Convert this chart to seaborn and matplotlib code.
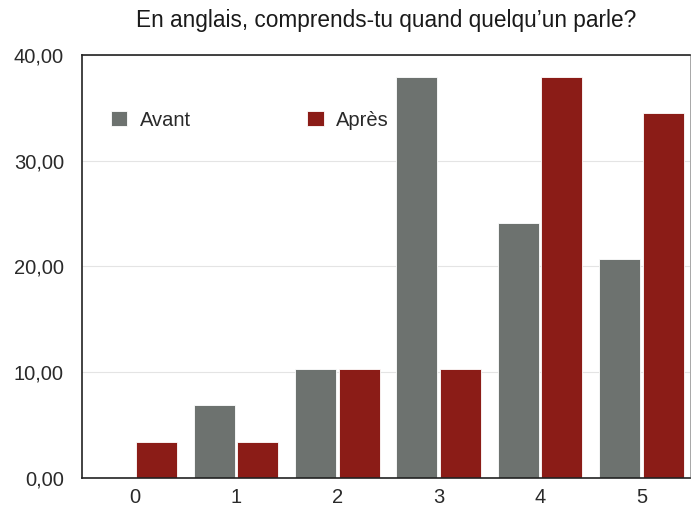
import numpy as np
import pandas as pd
import matplotlib
matplotlib.use("Agg")
import matplotlib.pyplot as plt
import seaborn as sns
from matplotlib.ticker import FuncFormatter

# Données (pourcentages)
niveaux = ["0", "1", "2", "3", "4", "5"]
avant = [0.0, 6.90, 10.34, 37.93, 24.14, 20.69]
apres = [3.45, 3.45, 10.34, 10.34, 37.93, 34.48]
periodes = ["Avant", "Après"]
couleurs = ["#6d726f", "#8b1c17"]

df = pd.DataFrame({
    "niveau": niveaux * 2,
    "pourcentage": avant + apres,
    "periode": [periodes[0]] * len(niveaux) + [periodes[1]] * len(niveaux),
})

sns.set_theme(style="white")
plt.rcParams['font.family'] = ['Liberation Sans', 'DejaVu Sans']

fig = plt.figure(figsize=(6.91, 5.08), dpi=100)
ax = fig.add_axes([0.1187, 0.059, 0.88, 0.833])

sns.barplot(data=df, x="niveau", y="pourcentage", hue="periode",
            palette=couleurs, saturation=1, width=0.86, gap=0.06, ax=ax,
            edgecolor="white", linewidth=0.6)

ax.set_axisbelow(True)
ax.set_ylim(0, 40)
ax.set_xlim(-0.52, 5.48)
ax.set_yticks([0, 10, 20, 30, 40])
ax.yaxis.set_major_formatter(FuncFormatter(lambda v, p: f"{v:.2f}".replace(".", ",")))
ax.grid(axis="y", color="#e4e4e4", linewidth=0.8)
ax.set_xlabel("")
ax.set_ylabel("")
ax.tick_params(axis="both", labelsize=14.5, colors="#2a2a2a", length=0)
ax.tick_params(axis="x", pad=7)
ax.tick_params(axis="y", pad=13)

for cote in ["left", "bottom", "top"]:
    ax.spines[cote].set_color("#222222")
    ax.spines[cote].set_linewidth(1.2)
    ax.spines[cote].set_zorder(5)
ax.spines["right"].set_color("#999999")
ax.spines["right"].set_linewidth(0.6)

ax.set_title("En anglais, comprends-tu quand quelqu\u2019un parle?",
             fontsize=16.3, color="#1a1a1a", pad=20)

leg = ax.legend(loc="center left", bbox_to_anchor=(0.0184, 0.846), ncol=2,
                frameon=False, fontsize=14.5, columnspacing=5.8,
                handlelength=0.8, handleheight=0.75, handletextpad=0.6)
for t in leg.get_texts():
    t.set_color("#2a2a2a")

fig.savefig("out.png", dpi=100)
